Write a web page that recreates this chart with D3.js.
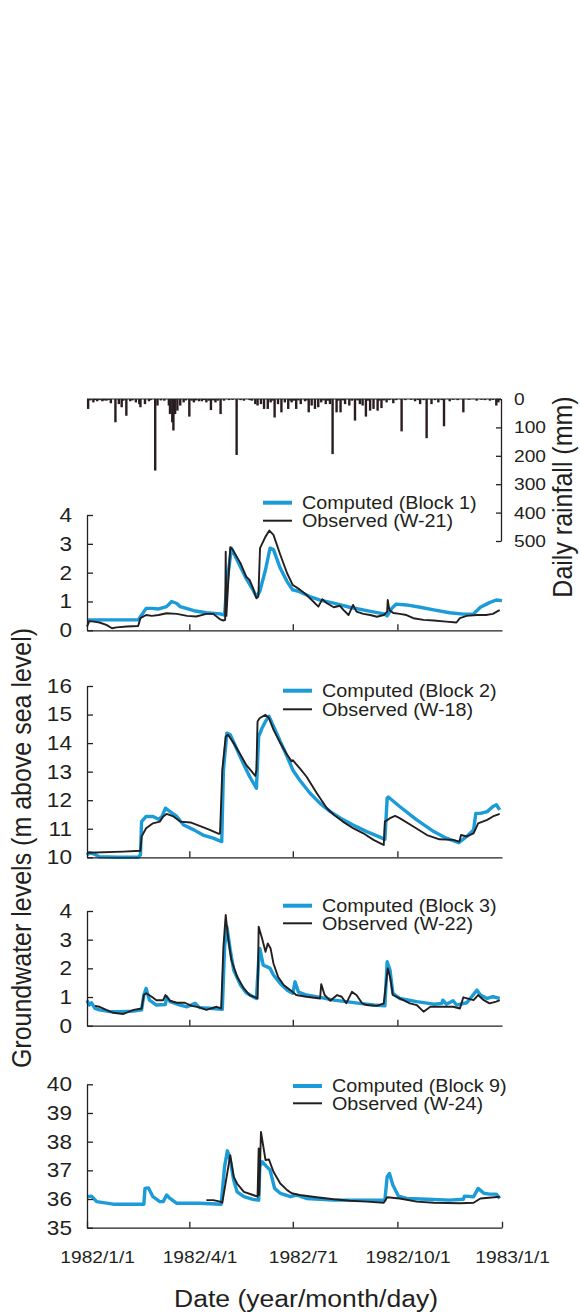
<!DOCTYPE html>
<html><head><meta charset="utf-8">
<script src="https://cdn.jsdelivr.net/npm/d3@7"></script>
<style>
body{margin:0;background:#fff}
svg{display:block}
text{font-family:"Liberation Sans",Arial,Helvetica,sans-serif;fill:#231f20}
</style>
</head><body>
<svg id="chart" width="580" height="1314"></svg>
<script>
// ---------------- DATA ----------------
const dateTicks = ["1982-01-01","1982-04-01","1982-07-01","1982-10-01","1983-01-01"];
const dateTickLabels = ["1982/1/1","1982/4/1","1982/71","1982/10/1","1983/1/1"];
const rainTicks = [0,100,200,300,400,500];
const ticksP1 = [0,1,2,3,4];
const ticksP2 = [10,11,12,13,14,15,16];
const ticksP3 = [0,1,2,3,4];
const ticksP4 = [35,36,37,38,39,40];
const legendNames = [["Computed (Block 1)","Observed (W-21)"],["Computed (Block 2)","Observed (W-18)"],["Computed (Block 3)","Observed (W-22)"],["Computed (Block 9)","Observed (W-24)"]];

// daily rainfall: [day of 1982, mm]
const rainfall = [[1,35],[3,5],[5.6,12],[7,4],[9,8],[11,4],[13.5,8],[15,5],[17,6],[19,4],[21,15],[25,82],[28,18],[30.5,29],[32,6],[34.6,59],[38,8],[40,5],[43,12],[46,18],[47,29],[51,18],[54.5,8],[56,4],[60,252],[62,23],[65,5],[68,6],[72,23],[73,53],[75,82],[76,111],[77.5,53],[79.5,41],[82,23],[85,12],[87,5],[90,62],[92,6],[94,12],[96,5],[98.5,8],[101,8],[103,4],[105,12],[107,6],[109,39],[111,5],[113,12],[115,6],[117.5,53],[120.5,6],[125,4],[128,3],[131.6,197],[135,4],[138,6],[143,4],[145,6],[148,18],[150,23],[153,18],[155.7,35],[159,35],[161.5,12],[163,6],[165,65],[168,18],[171,47],[174,12],[177,35],[179,6],[180,12],[182,6],[184,35],[186,5],[188,18],[191.7,8],[193,5],[195,47],[197.6,23],[200.5,35],[203.4,29],[206,12],[208,5],[210,18],[212,6],[213.7,18],[216,194],[219.5,47],[221,6],[223,47],[225,5],[227,18],[230.7,23],[233,6],[235.7,76],[238,5],[240,18],[242.4,23],[245.3,62],[247,6],[249,41],[252,35],[255.6,41],[257,6],[259,32],[261,5],[263.5,12],[266,4],[269.4,15],[272,4],[276.7,114],[280,4],[285,3],[288.5,8],[291,4],[293,18],[296,4],[298.7,138],[303,18],[306,4],[309,12],[312,4],[314,96],[319,8],[322,3],[326,4],[331,47],[336,3],[342.7,6],[347,3],[350,4],[354.4,6],[357,3],[360,23],[361.8,12],[364,4]];

// Block 1 / W-21
const computed1 = [[0,0.36],[45,0.36],[47,0.47],[52,0.76],[57,0.76],[63,0.74],[70,0.82],[74.5,1.0],[79,0.93],[82,0.82],[94,0.68],[105,0.61],[117,0.57],[121,0.53],[123,1.6],[127,2.85],[135,2.2],[140,1.8],[146,1.4],[149,1.17],[152,1.35],[157,2.1],[161,2.85],[164,2.8],[170,2.15],[176,1.69],[181,1.4],[187,1.34],[196,1.17],[205,1.05],[217,0.94],[231,0.8],[246,0.68],[261,0.57],[264,0.5],[268,0.76],[272,0.91],[281,0.88],[293,0.8],[305,0.71],[319,0.61],[331,0.56],[340,0.57],[346,0.8],[354,0.96],[360,1.05],[365,1.03]];
const observed1 = [[0,0.13],[2,0.32],[6,0.3],[11,0.27],[17,0.19],[22,0.07],[26,0.1],[35,0.13],[45,0.15],[47,0.42],[52,0.53],[57,0.5],[63,0.53],[70,0.59],[79,0.57],[88,0.5],[96,0.48],[105,0.57],[111,0.57],[117,0.38],[120,0.34],[121.5,0.36],[122,2.73],[122.6,0.5],[124,1.5],[126,2.88],[128,2.8],[135,2.33],[140,1.86],[143,1.75],[146,1.46],[149,1.11],[150.7,1.17],[152.2,2.85],[157,3.25],[160.4,3.46],[164,3.31],[170,2.62],[176,1.98],[181,1.57],[187,1.42],[193,1.23],[199,1.0],[203.5,0.82],[207,1.08],[211,0.94],[217,0.8],[222.5,0.85],[225.5,0.71],[230,0.53],[234,0.88],[237,0.65],[243,0.57],[249,0.53],[255,0.47],[261,0.53],[264,0.65],[264.5,1.05],[266,0.7],[269.5,0.6],[275,0.57],[281,0.53],[287,0.42],[296,0.36],[305,0.34],[316,0.3],[325,0.27],[328,0.42],[334,0.5],[343,0.53],[351,0.53],[357,0.57],[362,0.68],[363,0.7]];

// Block 2 / W-18
const computed2 = [[0,10.08],[2,10.16],[6,10.12],[11,10.02],[26,10.0],[45,10.0],[47,10.08],[48,11.25],[52,11.43],[58,11.43],[63,11.33],[66,11.43],[69,11.72],[73,11.6],[79,11.43],[85,11.13],[94,10.96],[102,10.78],[111,10.67],[118.5,10.55],[120,13.06],[123,14.35],[126,14.29],[132,13.77],[138,13.24],[143,12.83],[149,12.42],[151,14.23],[154,14.53],[157,14.76],[160,14.94],[164,14.59],[170,14.06],[176,13.53],[181,13.06],[187,12.71],[196,12.25],[205,11.89],[214,11.6],[223,11.37],[234,11.13],[246,10.9],[255,10.75],[262,10.63],[264,12.07],[265,12.11],[275,11.78],[290,11.31],[305,10.9],[316,10.67],[327,10.51],[334,10.73],[340,10.96],[342,11.54],[346,11.54],[352,11.6],[357,11.78],[360,11.84],[363,11.66]];
const observed2 = [[0,10.16],[32,10.2],[47,10.23],[48,10.73],[52,11.02],[58,11.19],[64,11.25],[67,11.43],[70,11.52],[76,11.43],[82,11.25],[91,11.22],[99,11.1],[108,10.96],[116,10.82],[117,10.84],[119,13.06],[122,14.23],[124,14.29],[129,14.0],[135,13.59],[140,13.24],[145,13.0],[148,12.85],[149,13.06],[150,14.76],[152,14.88],[157,14.99],[160,14.88],[164,14.47],[170,14.0],[176,13.59],[180,13.36],[181,13.4],[187,13.12],[193,12.83],[202,12.25],[211,11.72],[217,11.49],[225,11.25],[234,11.02],[243,10.84],[252,10.61],[259,10.47],[261,10.43],[262,11.25],[266.5,11.37],[271,11.45],[275,11.37],[287,11.08],[299,10.78],[310,10.63],[322,10.61],[327.5,10.55],[329,10.78],[334,10.73],[340,10.84],[344,11.19],[352,11.31],[357,11.43],[363,11.52]];

// Block 3 / W-22
const computed3 = [[0,0.89],[2,0.72],[4,0.8],[7,0.6],[11,0.55],[20,0.49],[29,0.49],[41,0.51],[48,0.55],[50,1.07],[52,1.3],[55,0.89],[61,0.72],[69,0.74],[70,1.01],[73,0.84],[82,0.72],[88,0.66],[95,0.78],[99,0.63],[111,0.6],[119,0.57],[121,2.75],[123,3.45],[126,2.64],[129,1.94],[135,1.42],[140,1.15],[146,1.01],[149,0.95],[151,2.29],[152,2.69],[155,2.11],[158,2.06],[161,2.0],[164,1.77],[170,1.47],[176,1.24],[181,1.13],[183,1.53],[186,1.17],[193,1.07],[205,0.99],[217,0.89],[228,0.84],[240,0.78],[252,0.72],[262,0.69],[264,2.23],[266.5,1.94],[269,1.13],[275,0.95],[290,0.84],[305,0.75],[312,0.78],[313,0.89],[316,0.75],[322,0.87],[325,0.72],[334,0.8],[343,1.24],[346,1.07],[352,0.95],[357,1.01],[363,0.95]];
const observed3 = [[7,0.69],[11,0.66],[17,0.55],[23,0.45],[32,0.41],[41,0.55],[48,0.6],[50,1.07],[52,1.13],[57,1.01],[61,0.89],[67,0.89],[69,1.07],[73,0.87],[79,0.8],[86,0.8],[92,0.69],[99,0.64],[105,0.55],[114,0.66],[118,0.6],[120,2.75],[122,3.86],[124,3.1],[127,2.29],[132,1.71],[138,1.3],[143,1.07],[148,0.99],[150,0.95],[151,3.45],[154,3.04],[157,2.58],[159,2.87],[161.5,2.69],[164,2.17],[168,1.71],[173,1.42],[179,1.24],[184,1.07],[193,1.01],[205,0.95],[206,1.45],[209,1.07],[214,0.87],[220,1.07],[224,1.01],[228,0.78],[233,1.18],[237,1.07],[242,0.78],[246,0.72],[255,0.69],[261,0.78],[264.5,2.0],[266.5,1.71],[269,1.07],[275,0.95],[284,0.78],[290,0.72],[296,0.49],[302,0.66],[310,0.66],[322,0.66],[328,0.6],[331,0.99],[340,0.89],[344,1.07],[349,0.89],[354,0.78],[360,0.84],[363,0.89]];

// Block 9 / W-24
const computed4 = [[0,36.08],[4,36.1],[8.5,35.91],[23,35.82],[50,35.82],[51,36.37],[54,36.39],[58,36.08],[64,35.91],[67,35.91],[70,36.14],[73,36.02],[79,35.85],[99,35.85],[118,35.82],[121,37.13],[123.5,37.68],[126,37.36],[129,36.66],[132,36.25],[138,36.08],[146,35.99],[151,35.96],[152,37.13],[154,37.3],[158,37.13],[161,37.01],[165,36.37],[170,36.2],[179,36.08],[184,36.14],[193,36.02],[205,35.99],[217,35.96],[246,35.96],[262,35.96],[264,36.78],[266,36.89],[269,36.49],[274,36.1],[281,36.02],[299,35.99],[319,35.96],[331,35.99],[332,36.1],[340,36.08],[344,36.37],[349,36.2],[354,36.17],[360,36.17],[363,36.02]];
const observed4 = [[105,35.96],[111,35.96],[117,35.91],[119,35.87],[126,37.53],[129,36.78],[132,36.54],[138,36.25],[146,36.14],[150,36.08],[151,37.76],[151.5,36.14],[153,38.34],[157,37.36],[160,37.38],[164,36.95],[170,36.54],[176,36.31],[180,36.2],[187,36.14],[202,36.06],[217,35.99],[231,35.94],[246,35.91],[261,35.87],[264,36.06],[275,36.02],[290,35.91],[305,35.87],[328,35.85],[340,35.87],[346,36.02],[363,36.08]];

// ---------------- LAYOUT ----------------
const INK = "#231f20", BLUE = "#1b9bd7", SX = 1.13;
const svg = d3.select("#chart");
const parse = d3.timeParse("%Y-%m-%d");
const start = parse("1982-01-01"), end = parse("1983-01-01");
const toDate = d => new Date(start.getTime() + d * 864e5);
const x = d3.scaleTime().domain([start, end]).range([87, 502]);

// rainfall
const yr = d3.scaleLinear().domain([0, 500]).range([399, 541]);
svg.append("g").selectAll("rect").data(rainfall).join("rect")
  .attr("x", d => x(toDate(d[0])) - 1.2).attr("width", 2.4)
  .attr("y", yr(0)).attr("height", d => yr(d[1]) - yr(0))
  .attr("fill", "#2a1d21");
svg.append("line").attr("x1", x(start)).attr("x2", 501).attr("y1", yr(0)).attr("y2", yr(0))
  .attr("stroke", INK).attr("stroke-width", 1);
const ra = svg.append("g").attr("transform", "translate(501,0)")
  .call(d3.axisRight(yr).tickValues(rainTicks).tickSizeInner(-5).tickSizeOuter(0).tickPadding(13));
ra.selectAll("text").attr("font-size", 17);

const panels = [
  {dom:[0,4], rng:[630.3,515], ticks:ticksP1, comp:computed1, obs:observed1, leg:[263,502.7,520.7]},
  {dom:[10,16], rng:[857.3,686], ticks:ticksP2, comp:computed2, obs:observed2, leg:[283,690.7,709.3]},
  {dom:[0,4], rng:[1025.7,911], ticks:ticksP3, comp:computed3, obs:observed3, leg:[283,905.7,923.3]},
  {dom:[35,40], rng:[1227.7,1084.3], ticks:ticksP4, comp:computed4, obs:observed4, leg:[293,1086,1103.3]}
];

panels.forEach((p, i) => {
  const y = d3.scaleLinear().domain(p.dom).range(p.rng);
  const g = svg.append("g");
  const line = d3.line().x(d => x(toDate(d[0]))).y(d => y(d[1]));
  g.append("path").datum(p.comp).attr("d", line).attr("fill", "none")
    .attr("stroke", BLUE).attr("stroke-width", 3.4).attr("stroke-linejoin", "round");
  g.append("path").datum(p.obs).attr("d", line).attr("fill", "none")
    .attr("stroke", INK).attr("stroke-width", 1.9).attr("stroke-linejoin", "round");

  const ya = g.append("g").attr("transform", `translate(${x(start)},0)`)
    .call(d3.axisLeft(y).tickValues(p.ticks).tickSizeInner(-6).tickSizeOuter(0).tickPadding(15).tickFormat(d3.format("d")));
  ya.selectAll("text").attr("font-size", 20);

  const last = i === panels.length - 1;
  const xa = g.append("g").attr("transform", `translate(0,${p.rng[0]})`)
    .call(d3.axisBottom(x).tickValues(last ? dateTicks.map(parse) : dateTicks.slice(1, 4).map(parse))
      .tickSizeInner(-6).tickSizeOuter(0).tickPadding(23)
      .tickFormat(last ? (d, k) => dateTickLabels[k] : () => ""));
  xa.selectAll("text").attr("font-size", 17).attr("dx", 9);

  // legend
  const [lx, ly1, ly2] = p.leg;
  g.append("line").attr("x1", lx).attr("x2", lx + 29).attr("y1", ly1).attr("y2", ly1)
    .attr("stroke", BLUE).attr("stroke-width", 4);
  g.append("line").attr("x1", lx).attr("x2", lx + 29).attr("y1", ly2).attr("y2", ly2)
    .attr("stroke", INK).attr("stroke-width", 2);
  g.append("text").attr("x", lx + 39).attr("y", ly1 + 6.3).attr("font-size", 17.5).text(legendNames[i][0]);
  g.append("text").attr("x", lx + 39).attr("y", ly2 + 6.3).attr("font-size", 17.5).text(legendNames[i][1]);
});

svg.selectAll(".domain, .tick line").attr("stroke", INK).attr("stroke-width", 1.3);
svg.selectAll(".tick text").attr("fill", INK);

// horizontal stretch to match reference typography
svg.selectAll("text").each(function () {
  const t = d3.select(this);
  const xx = +t.attr("x") || 0;
  t.attr("transform", `translate(${xx},0) scale(${SX},1) translate(${-xx},0)`);
});

// titles
svg.append("text").attr("transform", `translate(572,497) scale(${SX},1) rotate(-90)`)
  .attr("text-anchor", "middle").attr("font-size", 25).text("Daily rainfall (mm)");
svg.append("text").attr("transform", `translate(31,848) scale(${SX},1) rotate(-90)`)
  .attr("text-anchor", "middle").attr("font-size", 25).text("Groundwater levels (m above sea level)");
svg.append("text").attr("transform", `translate(306,1307) scale(${SX},1)`)
  .attr("text-anchor", "middle").attr("font-size", 23.5).text("Date (year/month/day)");
</script>
</body></html>
